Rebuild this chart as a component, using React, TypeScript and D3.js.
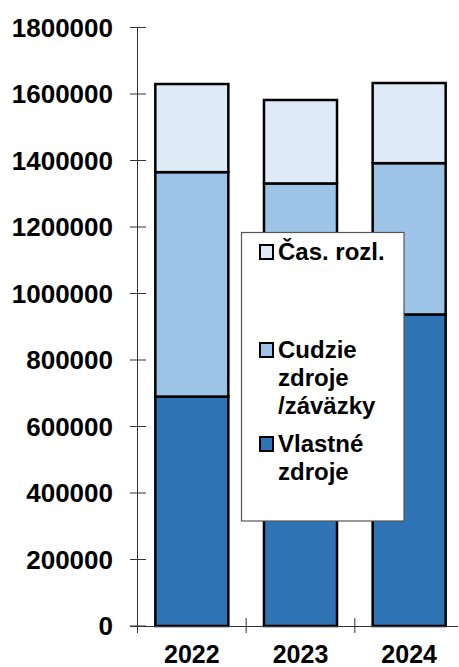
import React, { useRef, useEffect } from 'react';
import * as d3 from 'd3';

const years = ['2022', '2023', '2024'];
const vlastne = [690000, 800000, 937000];
const cudzie = [675000, 531000, 455000];
const casRozl = [265000, 251000, 241000];
const yTicks = [0, 200000, 400000, 600000, 800000, 1000000, 1200000, 1400000, 1600000, 1800000];

const seriesKeys = ['vlastne', 'cudzie', 'cas'];
const colors: Record<string, string> = { vlastne: '#2E74B5', cudzie: '#9DC3E6', cas: '#DEEBF7' };

const App: React.FC = () => {
  const svgRef = useRef<SVGSVGElement | null>(null);
  const width = 459;
  const height = 667;

  useEffect(() => {
    if (!svgRef.current) return;
    const svg = d3.select(svgRef.current);
    svg.selectAll('*').remove();

    const rows = years.map((yr, i) => ({ year: yr, vlastne: vlastne[i], cudzie: cudzie[i], cas: casRozl[i] }));

    const x = d3.scaleBand().domain(years).range([137.5, 463.5]).paddingInner(0.328).paddingOuter(0.164);
    const y = d3.scaleLinear().domain([0, 1800000]).range([626, 27.5]);
    const font = 'Arial, "Liberation Sans", sans-serif';

    // bars
    const stacked = d3.stack<any>().keys(seriesKeys)(rows);
    svg.append('g')
      .selectAll('g')
      .data(stacked)
      .join('g')
      .attr('fill', d => colors[d.key])
      .selectAll('rect')
      .data(d => d)
      .join('rect')
      .attr('x', d => x(d.data.year)!)
      .attr('y', d => y(d[1]))
      .attr('width', x.bandwidth())
      .attr('height', d => y(d[0]) - y(d[1]))
      .attr('stroke', '#000')
      .attr('stroke-width', 2.5);

    // y axis
    const ax = svg.append('g');
    ax.append('line').attr('x1', 137.5).attr('x2', 137.5).attr('y1', y(1800000)).attr('y2', 633)
      .attr('stroke', '#333').attr('stroke-width', 1);
    yTicks.forEach(t => {
      ax.append('line').attr('x1', 130).attr('x2', 146).attr('y1', y(t)).attr('y2', y(t))
        .attr('stroke', '#333').attr('stroke-width', 1);
      ax.append('text').attr('x', 113).attr('y', y(t)).attr('dy', '0.35em')
        .attr('text-anchor', 'end').attr('font-family', font).attr('font-weight', 'bold')
        .attr('font-size', 26).attr('fill', '#000').text(String(t));
    });

    // x axis
    ax.append('line').attr('x1', 130).attr('x2', 458).attr('y1', 626.5).attr('y2', 626.5)
      .attr('stroke', '#333').attr('stroke-width', 1);
    years.forEach((yr, i) => {
      if (i > 0) {
        const bx = x(yr)! - x.step() * x.paddingInner() / 2;
        ax.append('line').attr('x1', bx).attr('x2', bx).attr('y1', 618).attr('y2', 633)
          .attr('stroke', '#333').attr('stroke-width', 1);
      }
      ax.append('text').attr('x', x(yr)! + x.bandwidth() / 2).attr('y', 663)
        .attr('text-anchor', 'middle').attr('font-family', font).attr('font-weight', 'bold')
        .attr('font-size', 25).attr('fill', '#000').text(yr);
    });

    // legend
    const lg = svg.append('g');
    lg.append('rect').attr('x', 241.5).attr('y', 232.5).attr('width', 162.5).attr('height', 288.5)
      .attr('fill', '#fff').attr('stroke', '#555').attr('stroke-width', 1.2);
    const items = [
      { key: 'cas', lines: ['Čas. rozl.'], y: 260 },
      { key: 'cudzie', lines: ['Cudzie', 'zdroje', '/záväzky'], y: 358 },
      { key: 'vlastne', lines: ['Vlastné', 'zdroje'], y: 452 },
    ];
    items.forEach(it => {
      lg.append('rect').attr('x', 260).attr('y', it.y - 15).attr('width', 13).attr('height', 14)
        .attr('fill', colors[it.key]).attr('stroke', '#000').attr('stroke-width', 2);
      it.lines.forEach((ln, j) => {
        lg.append('text').attr('x', 278).attr('y', it.y + j * 28)
          .attr('font-family', font).attr('font-weight', 'bold').attr('font-size', 24)
          .attr('fill', '#000').text(ln);
      });
    });
  }, []);

  return (
    <svg ref={svgRef} width={width} height={height}
      style={{ position: 'absolute', left: 0, top: 0, background: '#fff' }} />
  );
};

export default App;
